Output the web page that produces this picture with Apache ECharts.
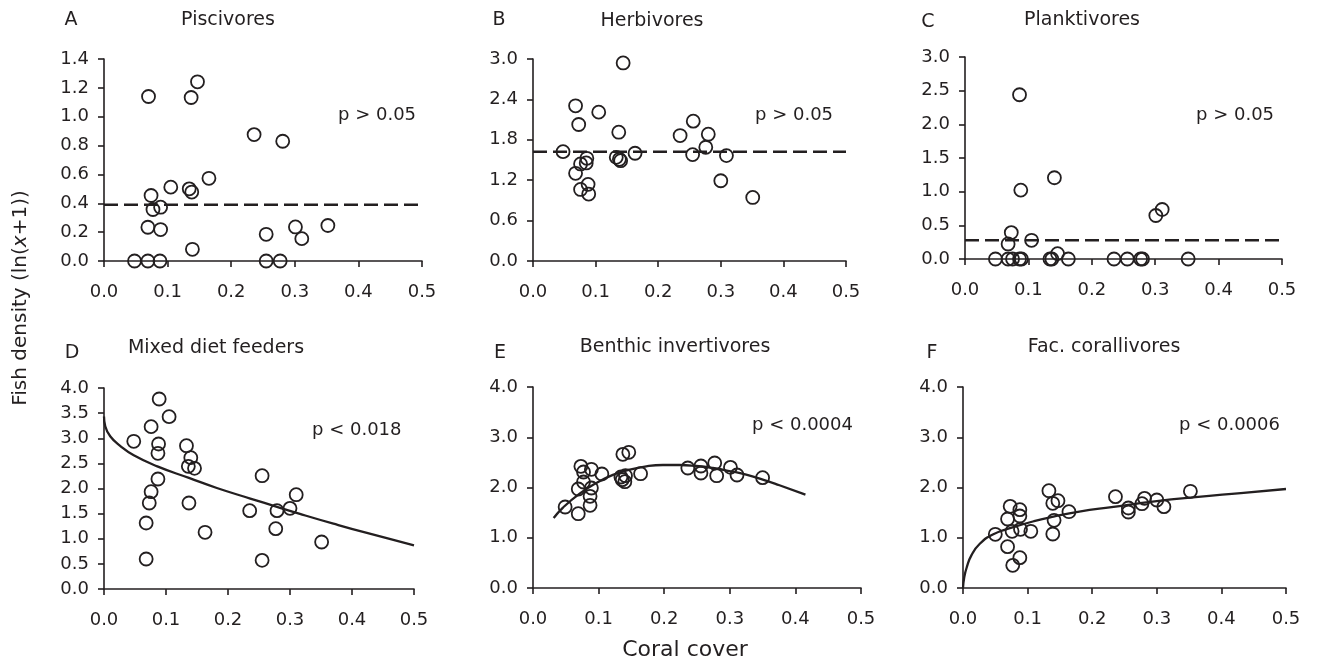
<!DOCTYPE html>
<html>
<head>
<meta charset="utf-8">
<style>
  html, body { margin: 0; padding: 0; background: #fff; }
  #chart { width: 1317px; height: 663px; }
</style>
<script src="https://cdn.jsdelivr.net/npm/echarts@6/dist/echarts.min.js"></script>
</head>
<body>
<div id="chart"></div>
<script>
// coral cover vs fish density, one array per panel
const piscivores = [
  [0.070, 1.140], [0.137, 1.133], [0.147, 1.242], [0.236, 0.876], [0.281, 0.830],
  [0.165, 0.573], [0.105, 0.512], [0.134, 0.500], [0.138, 0.478], [0.074, 0.454],
  [0.077, 0.357], [0.089, 0.373], [0.069, 0.234], [0.089, 0.218], [0.139, 0.081],
  [0.255, 0.185], [0.301, 0.236], [0.311, 0.155], [0.352, 0.246], [0.048, 0],
  [0.069, 0], [0.088, 0], [0.255, 0], [0.277, 0]
];
const herbivores = [
  [0.144, 2.941], [0.068, 2.305], [0.105, 2.211], [0.073, 2.027], [0.137, 1.913],
  [0.256, 2.077], [0.235, 1.863], [0.280, 1.883], [0.276, 1.689], [0.048, 1.624],
  [0.163, 1.600], [0.255, 1.580], [0.309, 1.565], [0.133, 1.540], [0.138, 1.510],
  [0.140, 1.490], [0.086, 1.525], [0.076, 1.441], [0.085, 1.456], [0.068, 1.302],
  [0.088, 1.138], [0.076, 1.063], [0.089, 0.994], [0.300, 1.192], [0.351, 0.944]
];
const planktivores = [
  [0.086, 2.439], [0.088, 1.023], [0.141, 1.207], [0.301, 0.646], [0.311, 0.735],
  [0.073, 0.392], [0.068, 0.224], [0.105, 0.278], [0.146, 0.080], [0.048, 0],
  [0.068, 0], [0.075, 0], [0.086, 0], [0.089, 0], [0.134, 0], [0.137, 0],
  [0.163, 0], [0.235, 0], [0.256, 0], [0.277, 0], [0.280, 0], [0.352, 0]
];
const mixedDiet = [
  [0.089, 3.781], [0.105, 3.430], [0.076, 3.231], [0.048, 2.939], [0.088, 2.886],
  [0.087, 2.700], [0.133, 2.852], [0.140, 2.614], [0.136, 2.441], [0.146, 2.401],
  [0.087, 2.189], [0.076, 1.937], [0.073, 1.711], [0.137, 1.711], [0.068, 1.313],
  [0.068, 0.597], [0.163, 1.128], [0.235, 1.559], [0.255, 2.255], [0.279, 1.559],
  [0.277, 1.201], [0.300, 1.605], [0.310, 1.877], [0.351, 0.935], [0.255, 0.570]
];
const benthic = [
  [0.137, 2.660], [0.146, 2.700], [0.073, 2.421], [0.089, 2.362], [0.077, 2.308],
  [0.105, 2.269], [0.164, 2.275], [0.077, 2.109], [0.069, 1.970], [0.089, 1.990],
  [0.087, 1.824], [0.087, 1.645], [0.049, 1.612], [0.069, 1.479], [0.134, 2.209],
  [0.136, 2.156], [0.140, 2.116], [0.141, 2.235], [0.236, 2.388], [0.256, 2.428],
  [0.256, 2.289], [0.277, 2.488], [0.280, 2.235], [0.301, 2.401], [0.311, 2.249],
  [0.350, 2.196]
];
const corallivores = [
  [0.133, 1.937], [0.139, 1.685], [0.147, 1.738], [0.073, 1.625], [0.088, 1.559],
  [0.088, 1.433], [0.069, 1.373], [0.141, 1.347], [0.164, 1.519], [0.076, 1.128],
  [0.089, 1.168], [0.105, 1.128], [0.050, 1.068], [0.139, 1.075], [0.069, 0.823],
  [0.088, 0.604], [0.077, 0.451], [0.236, 1.818], [0.256, 1.592], [0.256, 1.512],
  [0.277, 1.678], [0.281, 1.784], [0.300, 1.751], [0.311, 1.619], [0.352, 1.924]
];

// non-significant panels: mean line; significant panels: fitted curve
const meanA = [[0, 0.389], [0.5, 0.389]];
const meanB = [[0, 1.624], [0.5, 1.624]];
const meanC = [[0, 0.278], [0.5, 0.278]];
const fitD = [[0, 3.435], [0.002, 3.24], [0.010, 3.04], [0.026, 2.85], [0.048, 2.66],
  [0.086, 2.44], [0.137, 2.21], [0.182, 2.01], [0.236, 1.80], [0.279, 1.635],
  [0.316, 1.495], [0.370, 1.30], [0.424, 1.115], [0.5, 0.87]];
const fitE = [[0.0315, 1.394], [0.0457, 1.600], [0.0711, 1.878], [0.0965, 2.090],
  [0.1218, 2.250], [0.1473, 2.356], [0.1727, 2.422], [0.198, 2.448], [0.2234, 2.448],
  [0.2489, 2.428], [0.2741, 2.388], [0.2996, 2.328], [0.325, 2.256], [0.3503, 2.157],
  [0.3757, 2.044], [0.4153, 1.859]];
const fitF = [[0, 0], [0.002, 0.22], [0.006, 0.42], [0.013, 0.65], [0.026, 0.88],
  [0.047, 1.07], [0.078, 1.21], [0.11, 1.33], [0.14, 1.42], [0.18, 1.52], [0.23, 1.61],
  [0.3, 1.73], [0.36, 1.81], [0.43, 1.89], [0.5, 1.97]];

const letters = ['A', 'B', 'C', 'D', 'E', 'F'];
const groupNames = ['Piscivores', 'Herbivores', 'Planktivores', 'Mixed diet feeders',
  'Benthic invertivores', 'Fac. corallivores'];
const pLabels = ['p > 0.05', 'p > 0.05', 'p > 0.05', 'p < 0.018', 'p < 0.0004', 'p < 0.0006'];
const yMax = [1.4, 3.0, 3.0, 4.0, 4.0, 4.0];
const yStep = [0.2, 0.6, 0.5, 0.5, 1.0, 1.0];

const ink = '#231f20';
const font = 'DejaVu Sans';

const panels = [
  { grid: { left: 104, top: 59, width: 318, height: 202 }, pts: piscivores, line: meanA, dashed: true,
    letter: [71, 20], name: [228, 20], p: [338, 115] },
  { grid: { left: 533, top: 59, width: 313, height: 202 }, pts: herbivores, line: meanB, dashed: true,
    letter: [499, 20], name: [652, 21], p: [755, 115] },
  { grid: { left: 965, top: 57, width: 317, height: 202 }, pts: planktivores, line: meanC, dashed: true,
    letter: [928, 22], name: [1082, 20], p: [1196, 115] },
  { grid: { left: 104, top: 388, width: 310, height: 201 }, pts: mixedDiet, line: fitD, dashed: false,
    letter: [72, 353], name: [216, 348], p: [312, 430] },
  { grid: { left: 533, top: 387, width: 328, height: 201 }, pts: benthic, line: fitE, dashed: false,
    letter: [500, 353], name: [675, 347], p: [752, 425] },
  { grid: { left: 963, top: 387, width: 323, height: 201 }, pts: corallivores, line: fitF, dashed: false,
    letter: [932, 353], name: [1104, 347], p: [1179, 425] }
];

const axisCommon = {
  axisLine: { show: true, onZero: false, lineStyle: { color: ink, width: 1.6 } },
  axisTick: { show: true, length: 6, lineStyle: { color: ink, width: 1.6 } },
  splitLine: { show: false },
  axisLabel: { color: ink, fontFamily: font, fontSize: 18, formatter: v => v.toFixed(1) }
};

const grids = [], xAxes = [], yAxes = [], series = [], graphics = [];

panels.forEach((pn, i) => {
  grids.push(pn.grid);
  xAxes.push(Object.assign({}, axisCommon, {
    gridIndex: i, type: 'value', min: 0, max: 0.5, interval: 0.1,
    axisLabel: Object.assign({}, axisCommon.axisLabel, { margin: 22 })
  }));
  yAxes.push(Object.assign({}, axisCommon, {
    gridIndex: i, type: 'value', min: 0, max: yMax[i], interval: yStep[i],
    axisLabel: Object.assign({}, axisCommon.axisLabel, { margin: 15 })
  }));
  series.push({
    type: 'line', xAxisIndex: i, yAxisIndex: i, data: pn.line,
    showSymbol: false, silent: true, z: 2,
    smooth: pn.dashed ? false : 0.5,
    lineStyle: { color: ink, width: pn.dashed ? 2.5 : 2.3, type: pn.dashed ? [14, 6] : 'solid' }
  });
  series.push({
    type: 'scatter', xAxisIndex: i, yAxisIndex: i, data: pn.pts,
    symbol: 'circle', symbolSize: 13, clip: false, silent: true, z: 3,
    itemStyle: { color: 'rgba(0,0,0,0)', borderColor: ink, borderWidth: 1.8, opacity: 1 }
  });
  graphics.push({ type: 'text', x: pn.letter[0], y: pn.letter[1],
    style: { text: letters[i], fontFamily: font, fontSize: 19, fill: ink, align: 'center', verticalAlign: 'middle' } });
  graphics.push({ type: 'text', x: pn.name[0], y: pn.name[1],
    style: { text: groupNames[i], fontFamily: font, fontSize: 19, fill: ink, align: 'center', verticalAlign: 'middle' } });
  graphics.push({ type: 'text', x: pn.p[0], y: pn.p[1],
    style: { text: pLabels[i], fontFamily: font, fontSize: 18, fill: ink, align: 'left', verticalAlign: 'middle' } });
});

// shared axis titles
graphics.push({ type: 'text', x: 21, y: 298, rotation: Math.PI / 2,
  style: { text: 'Fish density (ln({i|x}+1))', fontFamily: font, fontSize: 20, fill: ink,
    align: 'center', verticalAlign: 'middle',
    rich: { i: { fontStyle: 'italic', fontFamily: font, fontSize: 20, fill: ink } } } });
graphics.push({ type: 'text', x: 685, y: 650,
  style: { text: 'Coral cover', fontFamily: font, fontSize: 22, fill: ink, align: 'center', verticalAlign: 'middle' } });

const myChart = echarts.init(document.getElementById('chart'));
myChart.setOption({
  animation: false,
  backgroundColor: '#fff',
  grid: grids,
  xAxis: xAxes,
  yAxis: yAxes,
  series: series,
  graphic: graphics
});
</script>
</body>
</html>
